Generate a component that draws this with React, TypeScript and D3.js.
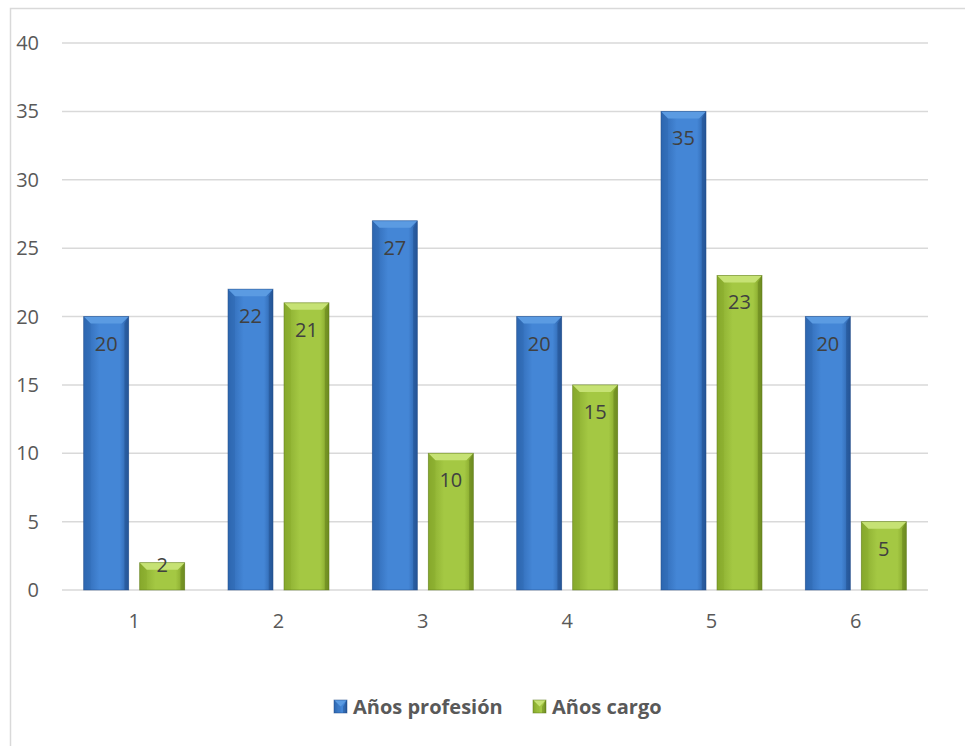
import React from "react";
import * as d3 from "d3";

const categories = ["1", "2", "3", "4", "5", "6"];
const seriesNames = ["Años profesión", "Años cargo"];
const profesion = [20, 22, 27, 20, 35, 20];
const cargo = [2, 21, 10, 15, 23, 5];
const yTicks = [0, 5, 10, 15, 20, 25, 30, 35, 40];

const W = 965;
const H = 746;
const plot = { left: 62, right: 928, top: 43, bottom: 590 };

const palettes = [
  { body0: "#2d66b0", body1: "#4486d6", body2: "#2a5fa6", top: "#5b9be2", edge: "#1f4a85", id: "blue" },
  { body0: "#86a82c", body1: "#a4c843", body2: "#7e9e26", top: "#c6e274", edge: "#5a7518", id: "green" },
];

function Bar({ x, y, w, h, p }: { x: number; y: number; w: number; h: number; p: typeof palettes[0] }) {
  const b = Math.min(7, h / 2);
  return (
    <g>
      <rect x={x} y={y} width={w} height={h} fill={`url(#grad-${p.id})`} />
      <polygon
        points={`${x},${y} ${x + w},${y} ${x + w - b},${y + b} ${x + b},${y + b}`}
        fill={p.top}
      />
      <polygon points={`${x},${y} ${x + b},${y + b} ${x + b},${y + h} ${x},${y + h}`} fill={p.body0} opacity={0.35} />
      <polygon points={`${x + w},${y} ${x + w - b * 0.6},${y + b} ${x + w - b * 0.6},${y + h} ${x + w},${y + h}`} fill={p.edge} opacity={0.45} />
      <rect x={x} y={y} width={w} height={h} fill="none" stroke={p.edge} strokeOpacity={0.6} strokeWidth={0.8} />
    </g>
  );
}

export default function App() {
  const x0 = d3.scaleBand<string>().domain(categories).range([plot.left, plot.right]).paddingInner(0.3).paddingOuter(0.15);
  const x1 = d3.scaleBand<string>().domain(seriesNames).range([0, x0.bandwidth()]).paddingInner(0.196).paddingOuter(0);
  const y = d3.scaleLinear().domain([0, 40]).range([plot.bottom, plot.top]);
  const series = [profesion, cargo];
  const font = "'Open Sans', 'Noto Sans', sans-serif";

  return (
    <svg width={W} height={H} style={{ position: "absolute", left: 0, top: 0, background: "#fff" }}>
      <defs>
        {palettes.map((p) => (
          <linearGradient key={p.id} id={`grad-${p.id}`} x1="0" x2="1" y1="0" y2="0">
            <stop offset="0" stopColor={p.body0} />
            <stop offset="0.35" stopColor={p.body1} />
            <stop offset="0.8" stopColor={p.body1} />
            <stop offset="1" stopColor={p.body2} />
          </linearGradient>
        ))}
      </defs>
      <rect x={10.5} y={8.5} width={W + 20} height={H + 20} fill="#fff" stroke="#d9d9d9" strokeWidth={1.5} />

      {yTicks.map((t) => (
        <g key={t}>
          <line x1={plot.left} x2={plot.right} y1={y(t)} y2={y(t)} stroke="#d9d9d9" strokeWidth={1.5} />
          <text x={39} y={y(t)} dy="0.35em" textAnchor="end" fontFamily={font} fontSize={20} fill="#595959">
            {t}
          </text>
        </g>
      ))}

      {categories.map((c) => (
        <text key={c} x={(x0(c) ?? 0) + x0.bandwidth() / 2} y={621} dy="0.35em" textAnchor="middle" fontFamily={font} fontSize={20} fill="#595959">
          {c}
        </text>
      ))}

      {categories.map((c, i) =>
        seriesNames.map((s, si) => {
          const v = series[si][i];
          const bx = (x0(c) ?? 0) + (x1(s) ?? 0);
          const by = y(v);
          const bh = y(0) - by;
          const bw = x1.bandwidth();
          const labelY = bh > 40 ? by + 27 : by + 2;
          return (
            <g key={`${c}-${s}`}>
              <Bar x={bx} y={by} w={bw} h={bh} p={palettes[si]} />
              <text x={bx + bw / 2} y={labelY} dy="0.35em" textAnchor="middle" fontFamily={font} fontSize={20} fill="#404040">
                {v}
              </text>
            </g>
          );
        })
      )}

      {seriesNames.map((s, si) => {
        const lx = si === 0 ? 334 : 533;
        return (
          <g key={s}>
            <Bar x={lx} y={700} w={13} h={13} p={palettes[si]} />
            <text x={lx + 19} y={707} dy="0.35em" fontFamily={font} fontSize={20} fontWeight={700} fill="#595959">
              {s}
            </text>
          </g>
        );
      })}
    </svg>
  );
}
